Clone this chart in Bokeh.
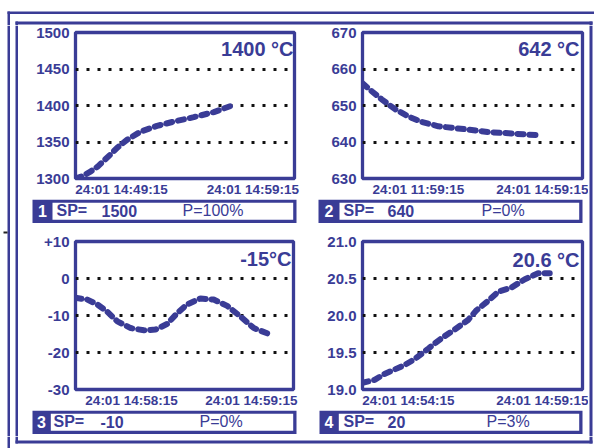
from bokeh.plotting import figure
from bokeh.models import FixedTicker, Label, Range1d
from bokeh.layouts import column, row
from bokeh.core.properties import value
from bokeh.embed import file_html
from bokeh.resources import INLINE

BLUE = "#3a3c96"
FONT = "Liberation Sans"

# ---------------- data ----------------
# panel 1
p1_x = [0, 3, 6.6, 10, 12.8, 16, 19, 23.5, 29.6, 37.2, 44.9, 54, 63.2, 72.4]
p1_y = [1300, 1303, 1309, 1316, 1324, 1333, 1342, 1353, 1364, 1372, 1378, 1384, 1391, 1401]
p1_yticks = [1300, 1350, 1400, 1450, 1500]
p1_ylabels = ["1300", "1350", "1400", "1450", "1500"]
p1_xlabels = ["24:01 14:49:15", "24:01 14:59:15"]
p1_reading = "1400 °C"
p1_num, p1_sp, p1_p = "1", "1500", "P=100%"

# panel 2
p2_x = [0, 4.2, 8.7, 14.8, 20.8, 26.9, 34.5, 42, 49.6, 57.2, 66.3, 75.4, 80.7]
p2_y = [656.1, 653.9, 651.7, 649, 647, 645.5, 644.3, 643.8, 643.3, 642.7, 642.4, 642, 641.9]
p2_yticks = [630, 640, 650, 660, 670]
p2_ylabels = ["630", "640", "650", "660", "670"]
p2_xlabels = ["24:01 11:59:15", "24:01 14:59:15"]
p2_reading = "642 °C"
p2_num, p2_sp, p2_p = "2", "640", "P=0%"

# panel 3
p3_x = [0, 5.4, 10, 14.6, 19.2, 25.3, 31.4, 36.7, 42, 46.6, 51.2, 57.3, 63.4, 69.6, 75.7, 81.8, 88.7]
p3_y = [-5.2, -5.7, -7, -9, -11.6, -13.4, -14, -13.8, -12.3, -9.4, -7, -5.4, -5.7, -7.4, -10.3, -13.4, -15]
p3_yticks = [-30, -20, -10, 0, 10]
p3_ylabels = ["-30", "-20", "-10", "0", "+10"]
p3_xlabels = ["24:01 14:58:15", "24:01 14:59:15"]
p3_reading = "-15°C"
p3_num, p3_sp, p3_p = "3", "-10", "P=0%"

# panel 4
p4_x = [0, 5.5, 10, 14.6, 19.1, 23.7, 29.8, 35.8, 41.9, 48, 51.8, 56.4, 61.7, 67.8, 73.8, 79.8, 85.1]
p4_y = [19.09, 19.13, 19.21, 19.27, 19.33, 19.41, 19.55, 19.69, 19.81, 19.94, 20.07, 20.18, 20.32, 20.38, 20.49, 20.57, 20.57]
p4_yticks = [19.0, 19.5, 20.0, 20.5, 21.0]
p4_ylabels = ["19.0", "19.5", "20.0", "20.5", "21.0"]
p4_xlabels = ["24:01 14:54:15", "24:01 14:59:15"]
p4_reading = "20.6 °C"
p4_num, p4_sp, p4_p = "4", "20", "P=3%"


# ---------------- helpers ----------------
def pix_fig(w, h):
    """A figure whose frame is the whole canvas, in pixel units (y downwards)."""
    p = figure(width=w, height=h, title=None, output_backend="svg", toolbar_location=None,
               x_range=Range1d(0, w), y_range=Range1d(h, 0),
               x_axis_location=None, y_axis_location=None,
               min_border=0, min_border_left=0, min_border_right=0,
               min_border_top=0, min_border_bottom=0)
    p.outline_line_color = None
    p.xgrid.visible = False
    p.ygrid.visible = False
    p.background_fill_color = "white"
    p.border_fill_color = "white"
    return p


def strip(w, h, rects, color=BLUE):
    p = pix_fig(w, h)
    p.quad(left=[r[0] for r in rects], right=[r[1] for r in rects],
           top=[r[2] for r in rects], bottom=[r[3] for r in rects],
           fill_color=color, line_color=None)
    return p


def bar_fig(w, h, l, r, t, b, cell_r, num, sp, pw, num_x, sp_x, val_x, p_x):
    p = pix_fig(w, h)
    p.quad(left=[l], right=[r], top=[t], bottom=[b], fill_color=BLUE, line_color=None)
    p.quad(left=[cell_r], right=[r - 3.3], top=[t + 3.3], bottom=[b - 3.3],
           fill_color="white", line_color=None)
    yc = (t + b) / 2 - 0.5
    common = dict(text_font=value(FONT), text_font_size=value("16px"), text_baseline="middle")
    p.text(x=[num_x], y=[yc], text=[num], text_color="white", text_align="center",
           text_font_style="bold", **common)
    p.text(x=[sp_x, val_x], y=[yc, yc], text=["SP=", sp], text_color=BLUE, text_align="left",
           text_font_style="bold", **common)
    p.text(x=[p_x], y=[yc], text=[pw], text_color=BLUE, text_align="left",
           text_font_style="normal", **common)
    return p


def chart(w, h, bl, br, bt, bb, xs, ys, yticks, ylabels, xticks, xlabels, reading, rx, ry):
    p = figure(width=w, height=h, title=None, output_backend="svg", toolbar_location=None,
               x_range=Range1d(0, 100), y_range=Range1d(yticks[0], yticks[-1]),
               min_border_left=bl, min_border_right=br, min_border_top=bt, min_border_bottom=bb)
    p.background_fill_color = "white"
    p.border_fill_color = "white"
    p.outline_line_color = BLUE
    p.outline_line_width = 3.3
    p.outline_line_alpha = 1.0
    p.xgrid.visible = False
    p.ygrid.ticker = FixedTicker(ticks=yticks[1:-1])
    p.ygrid.grid_line_color = "#111111"
    p.ygrid.grid_line_width = 3
    p.ygrid.grid_line_dash = "3 8"
    p.ygrid.grid_line_alpha = 1.0
    for ax, ticks, labels in ((p.yaxis[0], yticks, ylabels), (p.xaxis[0], xticks, xlabels)):
        ax.ticker = FixedTicker(ticks=ticks)
        ax.major_label_overrides = {t: s for t, s in zip(ticks, labels)}
        ax.axis_line_color = None
        ax.major_tick_line_color = None
        ax.minor_tick_line_color = None
        ax.major_tick_out = 0
        ax.major_tick_in = 0
        ax.major_label_text_color = BLUE
        ax.major_label_text_font = FONT
        ax.major_label_text_font_style = "bold"
    p.yaxis[0].major_label_text_font_size = "15px"
    p.yaxis[0].major_label_standoff = 6
    p.xaxis[0].major_label_text_font_size = "13.5px"
    p.xaxis[0].major_label_standoff = 3
    p.line(xs, ys, line_color=BLUE, line_width=6, line_dash="6 6", line_cap="round")
    p.add_layout(Label(x=rx, y=ry, x_units="canvas", y_units="canvas", text=reading,
                       text_font=FONT, text_font_size="20px", text_font_style="bold",
                       text_color=BLUE, text_align="right", text_baseline="alphabetic"))
    return p


# ---------------- outer double frame ----------------
top = strip(594, 25, [(7, 594, 11, 13.5), (7, 9.5, 11, 25), (15, 592, 21, 24),
                      (15, 17.5, 21, 25), (589, 592, 21, 25)])
left = strip(20, 411, [(7, 9.5, 0, 411), (15, 17.5, 0, 411)])
left.quad(left=[3], right=[7], top=[206], bottom=[208], fill_color="#222222", line_color=None)
right = strip(6, 411, [(1, 4, 0, 411)])
bottom = strip(594, 12, [(7, 9.5, 0, 12), (15, 17.5, 0, 7), (15, 592, 4, 7), (589, 592, 0, 7)])

# ---------------- panels ----------------
c1 = chart(285, 174, 55, 11, 7, 18, p1_x, p1_y, p1_yticks, p1_ylabels, [21, 81], p1_xlabels,
           p1_reading, 273, 23)
b1 = bar_fig(285, 31, 12, 276, 0, 23.5, 32, p1_num, p1_sp, p1_p, 22, 36, 81, 162)

c2 = chart(283, 174, 57, 6, 7, 18, p2_x, p2_y, p2_yticks, p2_ylabels, [25.4, 82.3], p2_xlabels,
           p2_reading, 274, 23)
b2 = bar_fig(283, 31, 13, 277, 0, 23.5, 34, p2_num, p2_sp, p2_p, 23.5, 38, 82, 176)

c3 = chart(285, 180, 55, 12, 11, 18, p3_x, p3_y, p3_yticks, p3_ylabels, [25.7, 80.7], p3_xlabels,
           p3_reading, 271, 28)
b3 = bar_fig(285, 26, 12, 276, 0, 23.5, 30.3, p3_num, p3_sp, p3_p, 21, 33, 80, 179)

c4 = chart(283, 180, 57, 6, 11, 18, p4_x, p4_y, p4_yticks, p4_ylabels, [20.9, 82], p4_xlabels,
           p4_reading, 274, 29)
b4 = bar_fig(283, 26, 14, 277, 0, 23.5, 33.3, p4_num, p4_sp, p4_p, 23.5, 38, 82, 181)

inner = column(row(column(row(c1), row(b1)), column(row(c2), row(b2))),
               row(column(row(c3), row(b3)), column(row(c4), row(b4))))
layout = column(top, row(left, inner, right), bottom)

open("out.html", "w").write(file_html(layout, INLINE))
